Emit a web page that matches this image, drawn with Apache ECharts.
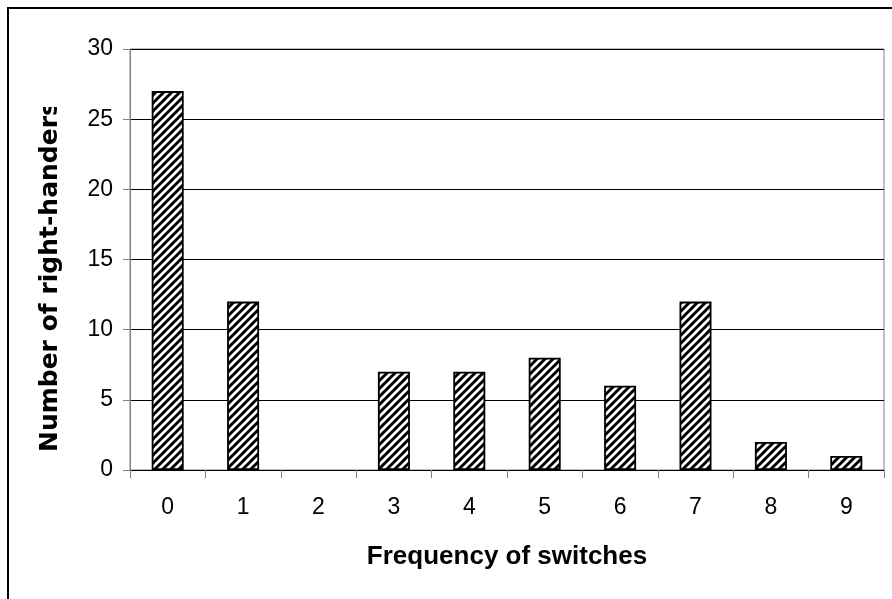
<!DOCTYPE html>
<html>
<head>
<meta charset="utf-8">
<script src="https://cdn.jsdelivr.net/npm/echarts@6/dist/echarts.min.js"></script>
<style>
html,body{margin:0;padding:0;background:#fff;}
#chart{width:892px;height:599px;}
</style>
</head>
<body>
<div id="chart"></div>
<script>
var categories = ['0','1','2','3','4','5','6','7','8','9'];
var counts = [27, 12, 0, 7, 7, 8, 6, 12, 2, 1];
var yTicks = [0, 5, 10, 15, 20, 25, 30];
var xTitle = 'Frequency of switches';
var yTitle = 'Number of right-handers';

function hatch() {
  var c = document.createElement('canvas');
  c.width = 8; c.height = 8;
  var g = c.getContext('2d');
  g.fillStyle = '#fff';
  g.fillRect(0, 0, 8, 8);
  g.strokeStyle = '#000';
  g.lineWidth = 3;
  g.beginPath();
  g.moveTo(-2, 10); g.lineTo(10, -2);
  g.moveTo(-6, 6); g.lineTo(6, -6);
  g.moveTo(2, 14); g.lineTo(14, 2);
  g.stroke();
  return c;
}

var chart = echarts.init(document.getElementById('chart'), null, {renderer: 'canvas'});
chart.setOption({
  animation: false,
  backgroundColor: '#fff',
  grid: {left: 130, right: 8, top: 49, bottom: 129, show: true, borderColor: '#808080', borderWidth: 1},
  xAxis: {
    type: 'category',
    data: categories,
    name: xTitle,
    nameLocation: 'middle',
    nameGap: 74,
    nameTextStyle: {fontFamily: 'Liberation Sans', fontWeight: 'bold', fontSize: 26, color: '#000'},
    axisLine: {lineStyle: {color: '#000', width: 1}},
    axisTick: {show: true, inside: false, length: 8, lineStyle: {color: '#808080'}},
    axisLabel: {fontFamily: 'Liberation Sans', fontSize: 23, color: '#000', margin: 26},
    splitLine: {show: false}
  },
  yAxis: {
    type: 'value',
    min: yTicks[0],
    max: yTicks[yTicks.length - 1],
    interval: 5,
    axisLine: {show: true, lineStyle: {color: '#808080', width: 1}},
    axisTick: {show: true, inside: false, length: 7, lineStyle: {color: '#808080'}},
    axisLabel: {fontFamily: 'Liberation Sans', fontSize: 23, color: '#000', margin: 17},
    splitLine: {show: true, lineStyle: {color: '#000', width: 1}}
  },
  series: [{
    type: 'bar',
    data: counts.map(function (v) { return v === 0 ? '-' : v; }),
    barWidth: 32,
    itemStyle: {
      color: {image: hatch(), repeat: 'repeat'},
      borderColor: '#000',
      borderWidth: 1.8
    }
  }],
  graphic: [
    {type: 'rect', z: 100, shape: {x: 8, y: 8, width: 1000, height: 1000},
     style: {fill: 'none', stroke: '#000', lineWidth: 2}},
    {type: 'text', z: 100, x: 50, y: 452, rotation: Math.PI / 2,
     style: {text: yTitle, fontFamily: 'DejaVu Sans', fontWeight: 'bold', fontSize: 25,
             fill: '#000', align: 'left', verticalAlign: 'middle'}},
    {type: 'rect', z: 101, shape: {x: 30, y: 40, width: 45, height: 67},
     style: {fill: '#fff'}}
  ]
});
</script>
</body>
</html>
